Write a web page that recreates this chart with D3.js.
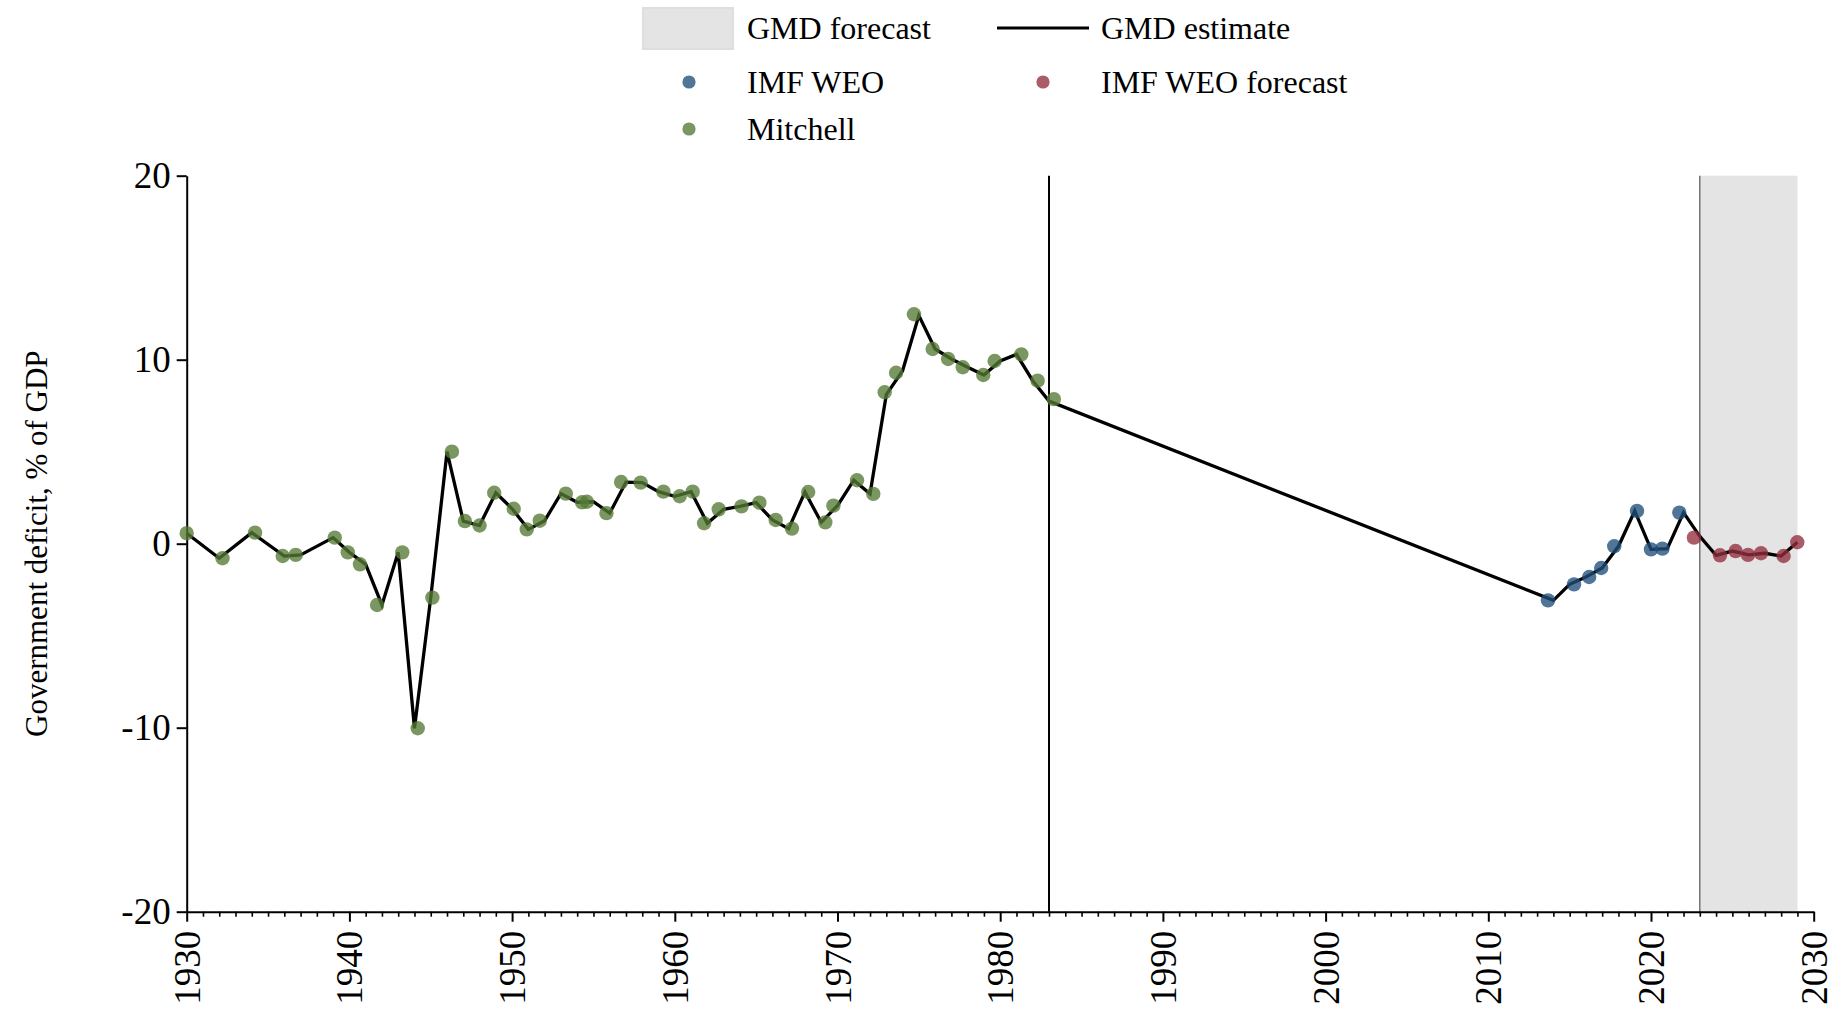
<!DOCTYPE html>
<html>
<head>
<meta charset="utf-8">
<script src="https://cdn.jsdelivr.net/npm/d3@7"></script>
<style>
  html, body { margin: 0; padding: 0; background: #ffffff; }
  svg { display: block; }
  svg text { font-family: 'Liberation Serif', 'Times New Roman', serif !important; }
</style>
</head>
<body>
<svg id="chart" width="1840" height="1019"></svg>
<script>
// ---- Data ----
// GMD estimate line: yearly values
const gmdYears = [1930,1932,1934,1936,1937,1939,1940,1941,1942,1943,1944,1945,1946,1947,1948,1949,
  1950,1951,1952,1953,1954,1955,1956,1957,1958,1959,1960,1961,1962,1963,1964,1965,1966,1967,1968,1969,
  1970,1971,1972,1973,1974,1975,1976,1977,1978,1979,1980,1981,1982,1983,
  2014,2015,2016,2017,2018,2019,2020,2021,2022,2023,2024,2025,2026,2027,2028,2029];
const gmdValues = [0.57,-0.79,0.60,-0.67,-0.61,0.33,-0.47,-1.12,-3.33,-0.47,-10.03,-2.93,5.0,1.23,0.99,2.77,
  1.9,0.78,1.25,2.72,2.25,2.28,1.66,3.35,3.32,2.83,2.58,2.83,1.11,1.87,2.03,2.23,1.29,0.82,2.81,1.16,
  2.07,3.45,2.71,8.1,9.4,12.4,10.58,10.04,9.59,9.17,9.93,10.29,8.86,7.75,
  -3.08,-2.21,-1.81,-1.32,-0.14,1.78,-0.31,-0.27,1.69,0.4,-0.63,-0.40,-0.61,-0.52,-0.67,0.08];

// Mitchell source points (plotted positions as seen in the picture)
const mitchellPlotX = [1930.0,1932.2,1934.2,1935.9,1936.7,1939.1,1939.9,1940.65,1941.7,1943.25,1944.2,1945.1,1946.3,1947.1,1948.0,1948.9,
  1950.1,1950.9,1951.7,1953.3,1954.3,1954.6,1955.8,1956.7,1957.9,1959.3,1960.3,1961.1,1961.8,1962.7,1964.1,1965.2,1966.2,1967.2,1968.2,1969.25,
  1969.75,1971.2,1972.2,1972.9,1973.6,1974.7,1975.85,1976.8,1977.7,1978.96,1979.66,1981.3,1982.3,1983.3];
const mitchellValues = [0.57,-0.79,0.60,-0.67,-0.61,0.33,-0.47,-1.12,-3.33,-0.47,-10.03,-2.93,5.0,1.23,0.99,2.77,
  1.9,0.78,1.25,2.72,2.25,2.28,1.66,3.35,3.32,2.83,2.58,2.83,1.11,1.87,2.03,2.23,1.29,0.82,2.81,1.16,
  2.07,3.45,2.71,8.23,9.29,12.47,10.58,10.04,9.59,9.17,9.93,10.29,8.86,7.86];

// IMF WEO points
const imfPlotX = [2013.67,2015.27,2016.2,2016.94,2017.74,2019.14,2020.0,2020.7,2021.74];
const imfValues = [-3.08,-2.21,-1.81,-1.32,-0.14,1.78,-0.31,-0.27,1.69];

// IMF WEO forecast points
const imfForecastPlotX = [2022.64,2024.24,2025.2,2025.96,2026.76,2028.15,2028.99];
const imfForecastValues = [0.33,-0.63,-0.40,-0.61,-0.52,-0.67,0.08];

// Reference markers and forecast band
const splitYear = 1983;
const forecastStart = 2023;
const forecastEnd = 2029;

// Axis ticks
const xTickValues = [1930,1940,1950,1960,1970,1980,1990,2000,2010,2020,2030];
const yTickValues = [-20,-10,0,10,20];

// Legend entries
const legendLabels = ["GMD forecast","GMD estimate","IMF WEO","IMF WEO forecast","Mitchell"];

// ---- Styles ----
const FONT = "'Liberation Serif', 'Times New Roman', serif";
const COL_GREEN = "#557a35";
const COL_BLUE = "#1f4e79";
const COL_RED = "#922f3d";
const DOT_OPACITY = 0.78;
const DOT_R = 7.2;
const LEG_R = 6.6;

const svg = d3.select("#chart");

const x = d3.scaleLinear().domain([1930, 2030]).range([186.7, 1813.7]);
const y = d3.scaleLinear().domain([-20, 20]).range([911.7, 175.7]);

// forecast shading
svg.append("rect")
  .attr("x", x(forecastStart)).attr("y", y(20))
  .attr("width", x(forecastEnd) - x(forecastStart))
  .attr("height", y(-20) - y(20))
  .attr("fill", "#e4e4e4");

// vertical reference lines
svg.append("line")
  .attr("x1", x(forecastStart)).attr("x2", x(forecastStart))
  .attr("y1", y(20)).attr("y2", y(-20))
  .attr("stroke", "#555").attr("stroke-width", 1.2);
svg.append("line")
  .attr("x1", x(splitYear)).attr("x2", x(splitYear))
  .attr("y1", y(20)).attr("y2", y(-20))
  .attr("stroke", "#000").attr("stroke-width", 2);

// Y axis
const yAxis = d3.axisLeft(y).tickValues(yTickValues).tickSize(10).tickSizeOuter(0)
  .tickFormat(d => String(d));
const gy = svg.append("g").attr("transform", `translate(${x(1930)},0)`).call(yAxis)
  .attr("font-family", FONT);
gy.select(".domain").attr("stroke-width", 2);
gy.selectAll(".tick line").attr("stroke-width", 2);
gy.selectAll(".tick text").attr("font-size", 37).attr("x", -16).attr("dy", "0.33em")
  .attr("fill", "#000");

// X axis minor ticks
const minorYears = d3.range(1930, 2031).filter(v => v % 10 !== 0);
const xMinor = d3.axisBottom(x).tickValues(minorYears).tickSize(5).tickSizeOuter(0).tickFormat("");
const gxm = svg.append("g").attr("transform", `translate(0,${y(-20)})`).call(xMinor);
gxm.select(".domain").remove();
gxm.selectAll(".tick line").attr("stroke-width", 1.6);

// X axis major
const xAxis = d3.axisBottom(x).tickValues(xTickValues).tickSize(10).tickSizeOuter(0)
  .tickFormat(d3.format("d"));
const gx = svg.append("g").attr("transform", `translate(0,${y(-20)})`).call(xAxis)
  .attr("font-family", FONT);
gx.select(".domain").attr("stroke-width", 2);
gx.selectAll(".tick line").attr("stroke-width", 2);
gx.selectAll(".tick text")
  .attr("font-size", 37)
  .attr("fill", "#000")
  .attr("transform", "rotate(-90)")
  .attr("text-anchor", "end")
  .attr("x", -19).attr("y", 0).attr("dy", "0.34em");

// Y title
svg.append("text")
  .attr("transform", `translate(47,${(y(20) + y(-20)) / 2}) rotate(-90)`)
  .attr("text-anchor", "middle")
  .attr("font-family", FONT)
  .attr("font-size", 31)
  .attr("fill", "#000")
  .text("Government deficit, % of GDP");

// GMD line
const gmdData = gmdYears.map((yr, i) => ({ x: yr, v: gmdValues[i] }));
const line = d3.line().x(d => x(d.x)).y(d => y(d.v));
svg.append("path").datum(gmdData)
  .attr("d", line).attr("fill", "none")
  .attr("stroke", "#000").attr("stroke-width", 3.3).attr("stroke-linejoin", "miter");

// dots
function drawDots(xs, vs, color) {
  svg.append("g").selectAll("circle")
    .data(xs.map((xx, i) => ({ x: xx, v: vs[i] })))
    .join("circle")
    .attr("cx", d => x(d.x)).attr("cy", d => y(d.v)).attr("r", DOT_R)
    .attr("fill", color).attr("fill-opacity", DOT_OPACITY);
}
drawDots(mitchellPlotX, mitchellValues, COL_GREEN);
drawDots(imfPlotX, imfValues, COL_BLUE);
drawDots(imfForecastPlotX, imfForecastValues, COL_RED);

// Legend
const lg = svg.append("g").attr("font-size", 32).attr("fill", "#000").attr("font-family", FONT);
lg.append("rect").attr("x", 643).attr("y", 8).attr("width", 90).attr("height", 41)
  .attr("fill", "#e4e4e4").attr("stroke", "#dedede").attr("stroke-width", 2);
lg.append("text").attr("x", 747).attr("y", 28).attr("dy", "0.35em").text(legendLabels[0]);
lg.append("line").attr("x1", 997).attr("x2", 1089).attr("y1", 28).attr("y2", 28)
  .attr("stroke", "#000").attr("stroke-width", 3);
lg.append("text").attr("x", 1101).attr("y", 28).attr("dy", "0.35em").text(legendLabels[1]);
lg.append("circle").attr("cx", 689).attr("cy", 82).attr("r", LEG_R)
  .attr("fill", COL_BLUE).attr("fill-opacity", DOT_OPACITY);
lg.append("text").attr("x", 747).attr("y", 82).attr("dy", "0.35em").text(legendLabels[2]);
lg.append("circle").attr("cx", 1043).attr("cy", 82).attr("r", LEG_R)
  .attr("fill", COL_RED).attr("fill-opacity", DOT_OPACITY);
lg.append("text").attr("x", 1101).attr("y", 82).attr("dy", "0.35em").text(legendLabels[3]);
lg.append("circle").attr("cx", 689).attr("cy", 129).attr("r", LEG_R)
  .attr("fill", COL_GREEN).attr("fill-opacity", DOT_OPACITY);
lg.append("text").attr("x", 747).attr("y", 129).attr("dy", "0.35em").text(legendLabels[4]);
</script>
</body>
</html>
